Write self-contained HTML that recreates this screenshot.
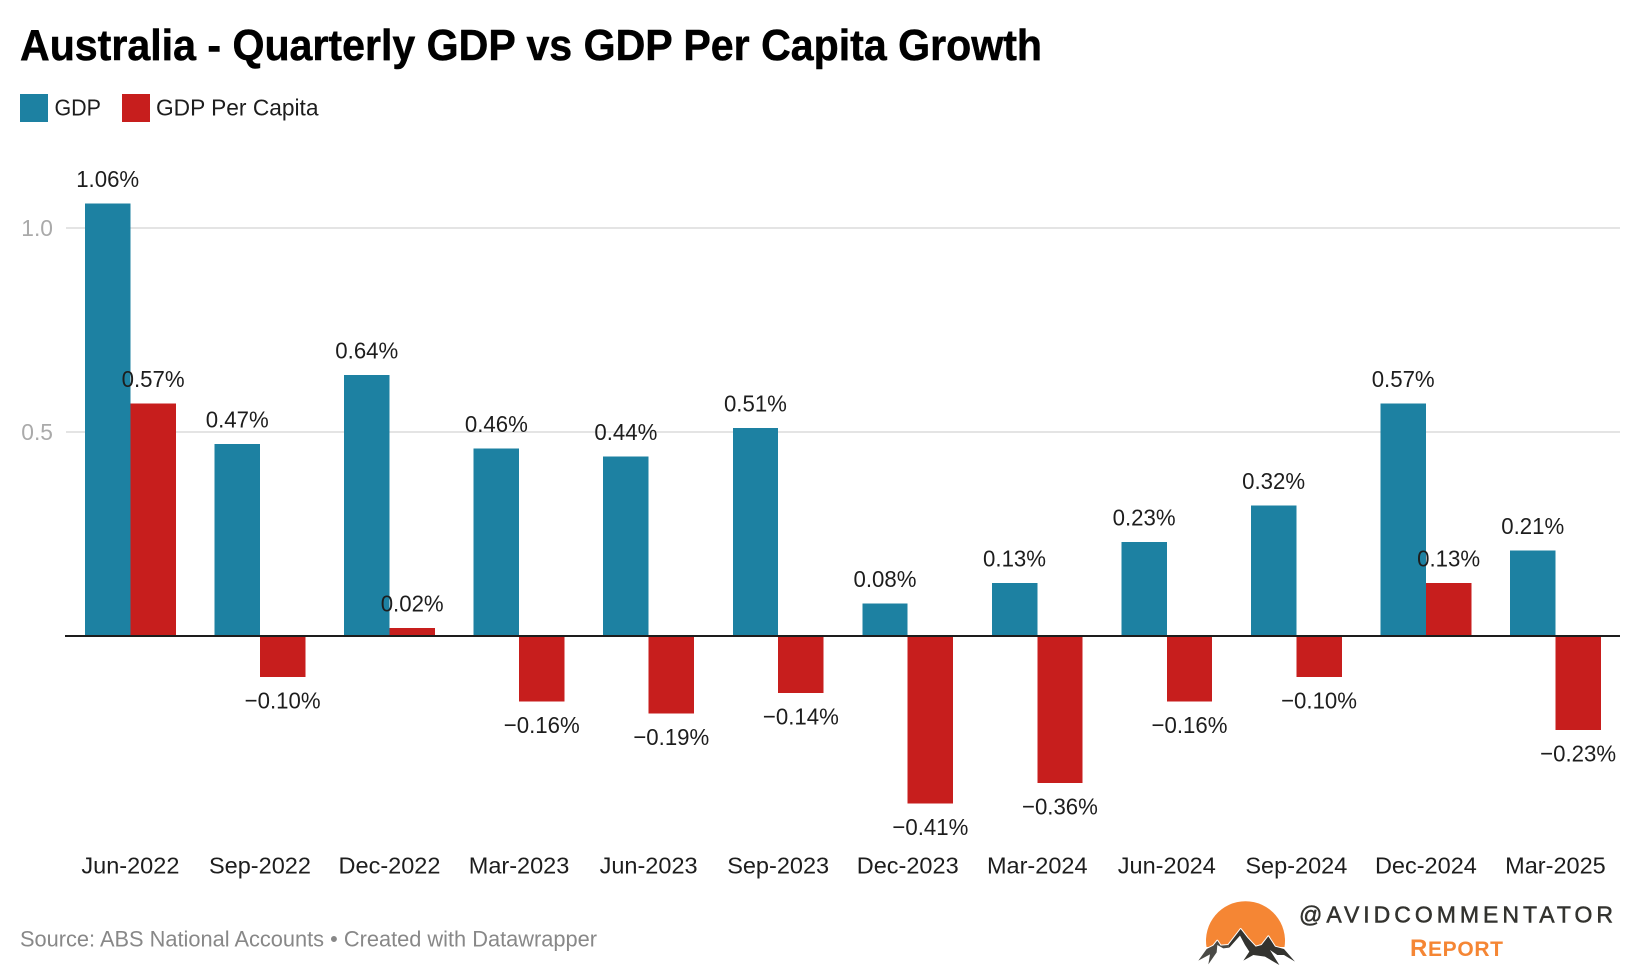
<!DOCTYPE html>
<html lang="en">
<head>
<meta charset="utf-8">
<title>Australia - Quarterly GDP vs GDP Per Capita Growth</title>
<style>
  html, body { margin: 0; padding: 0; background: #fff; }
  svg { display: block; font-family: "Liberation Sans", sans-serif; }
</style>
</head>
<body>
<svg id="chart" xmlns="http://www.w3.org/2000/svg" width="1640" height="972" viewBox="0 0 1640 972">
  <rect width="1640" height="972" fill="#ffffff"/>
  <text x="20" y="60" font-size="44" font-weight="700" fill="#000" stroke="#000" stroke-width="0.5" textLength="1022" lengthAdjust="spacingAndGlyphs">Australia - Quarterly GDP vs GDP Per Capita Growth</text>

  <g>
    <rect x="20" y="94" width="28" height="28" fill="#1d81a2"/>
    <text x="54.5" y="115.5" font-size="23.5" fill="#1d1d1d" textLength="46.5" lengthAdjust="spacingAndGlyphs">GDP</text>
    <rect x="122" y="94" width="28" height="28" fill="#c71e1d"/>
    <text x="156" y="115.5" font-size="23.5" fill="#1d1d1d" textLength="162.5" lengthAdjust="spacingAndGlyphs">GDP Per Capita</text>
  </g>

  <g id="grid"></g>
  <g id="ticks"></g>
  <g id="bars" shape-rendering="crispEdges"></g>
  <line id="baseline" stroke="#1d1d1d" stroke-width="2"></line>
  <g id="labels"></g>
  <g id="categories"></g>

  <text x="20" y="946.5" font-size="22" fill="#888888" textLength="577" lengthAdjust="spacingAndGlyphs">Source: ABS National Accounts • Created with Datawrapper</text>

  <g>
    <path d="M1206.500 947 A39.500 39.500 0 1 1 1284.500 947 Z" fill="#f58634"/>
    <g transform="translate(1190 895) scale(0.3333)">
      <path d="M25 197 L50 162 L70 152 L82 137 L92 152 L115 150 L152 102 L172 128 L197 155 L215 150 L235 124 L255 155 L282 162 L315 200 L268 210 L55 208 Z" fill="#ffffff" stroke="#ffffff" stroke-width="6" stroke-linejoin="round"/>
      <path d="M115 150 L152 102 L172 128 L197 155 L215 150 L235 124 L255 155 L282 162 L315 200 L282 180 L262 180 L240 165 L268 210 L225 185 L190 180 L160 197 L178 170 L165 150 L150 122 L132 142 L118 158 Z" fill="#33332f"/>
      <path d="M25 197 L50 162 L70 152 L82 137 L92 152 L115 150 L118 158 L100 160 L82 150 L80 172 L55 208 L60 178 Z" fill="#4a4a46"/>
    </g>
    <text x="1299" y="922.500" font-size="23" fill="#33332f" stroke="#33332f" stroke-width="0.5" textLength="314" lengthAdjust="spacing">@AVIDCOMMENTATOR</text>
    <text x="1410" y="956" font-size="24" font-weight="700" fill="#f58634" textLength="93" lengthAdjust="spacing">R<tspan font-size="21">EPORT</tspan></text>
  </g>
</svg>
<script>
var categories = ['Jun-2022','Sep-2022','Dec-2022','Mar-2023','Jun-2023','Sep-2023','Dec-2023','Mar-2024','Jun-2024','Sep-2024','Dec-2024','Mar-2025'];
var gdpValues = [1.06,0.47,0.64,0.46,0.44,0.51,0.08,0.13,0.23,0.32,0.57,0.21];
var perCapitaValues = [0.57,-0.10,0.02,-0.16,-0.19,-0.14,-0.41,-0.36,-0.16,-0.10,0.13,-0.23];
var tickValues = [0.5,1.0];
var tickLabels = ['0.5','1.0'];

var SVG_NS = 'http://www.w3.org/2000/svg';
var zeroY = 636, pxPerUnit = 408, plotLeft = 65, plotRight = 1620;
var firstX = 85, stepX = 129.55, barW = 45.4;
function yScale(v) { return zeroY - v * pxPerUnit; }
function groupX(i) { return firstX + stepX * i; }
function make(tag, parent, attrs) {
  var el = document.createElementNS(SVG_NS, tag);
  for (var k in attrs) el.setAttribute(k, attrs[k]);
  parent.appendChild(el);
  return el;
}
function fitText(el, k) {
  var w = el.getComputedTextLength();
  el.setAttribute('textLength', (w * k).toFixed(2));
  el.setAttribute('lengthAdjust', 'spacingAndGlyphs');
}
function fmt(v) { return v.toFixed(2).replace('-', '\u2212') + '%'; }

var gridG = document.getElementById('grid');
var ticksG = document.getElementById('ticks');
var barsG = document.getElementById('bars');
var labelsG = document.getElementById('labels');
var catsG = document.getElementById('categories');

tickValues.forEach(function (v, i) {
  var ln = make('line', gridG, { x1: plotLeft + 1, x2: plotRight, y1: yScale(v), y2: yScale(v), stroke: '#e4e4e4', 'stroke-width': 2 });
  
  
  var t = make('text', ticksG, { x: 53, y: yScale(v) + 8, 'text-anchor': 'end', 'font-size': 23.5, fill: '#aaaaaa' });
  t.textContent = tickLabels[i];
  
  
  fitText(t, 0.97);
});

function addBar(v, x, fill, name) {
  var top = Math.min(yScale(v), zeroY), h = Math.abs(yScale(v) - zeroY);
  var r = make('rect', barsG, { x: x, y: top, width: barW, height: h, fill: fill });
  
  
}
function addLabel(v, cx) {
  var y = v >= 0 ? yScale(v) - 16.5 : yScale(v) + 31.5;
  var t = make('text', labelsG, { x: cx, y: y, 'text-anchor': 'middle', 'font-size': 23.5, fill: '#1d1d1d' });
  t.textContent = fmt(v);
  
  
  fitText(t, 0.945);
}

categories.forEach(function (c, i) {
  var x = groupX(i);
  addBar(gdpValues[i], x, '#1d81a2', 'bar-gdp');
  addBar(perCapitaValues[i], x + barW, '#c71e1d', 'bar-gdp-per-capita');
  addLabel(gdpValues[i], x + barW / 2);
  addLabel(perCapitaValues[i], x + barW * 1.5);
  var t = make('text', catsG, { x: x + barW, y: 873.5, 'text-anchor': 'middle', 'font-size': 23.5, fill: '#1d1d1d' });
  t.textContent = c;
  
  
  fitText(t, 1.0);
});

var base = document.getElementById('baseline');
base.setAttribute('x1', plotLeft);
base.setAttribute('x2', plotRight);
base.setAttribute('y1', zeroY);
base.setAttribute('y2', zeroY);
</script>
</body>
</html>
